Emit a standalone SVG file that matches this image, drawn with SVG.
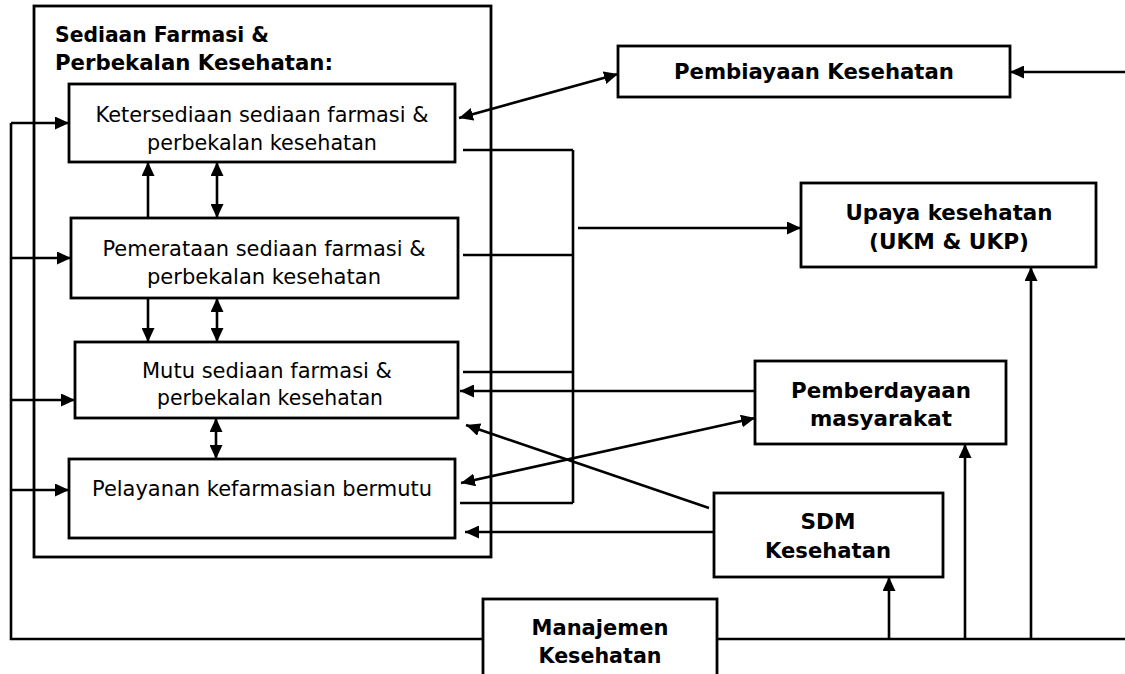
<svg xmlns="http://www.w3.org/2000/svg" width="1125" height="674" viewBox="0 0 1125 674">
<style>
.box{fill:#fff;stroke:#000;stroke-width:2.8}
.ln{fill:none;stroke:#000;stroke-width:2.6}
.a{marker-end:url(#ah)}
.d{marker-start:url(#ah);marker-end:url(#ah)}
.t{font-family:"DejaVu Sans",Verdana,sans-serif;font-size:21.5px;fill:#000}
.b{font-family:"DejaVu Sans",Verdana,sans-serif;font-size:21.5px;font-weight:bold;fill:#000}
.c{text-anchor:middle}
</style>
<defs>
<marker id="ah" viewBox="0 0 14 13" refX="14" refY="6.5" markerWidth="14" markerHeight="13" markerUnits="userSpaceOnUse" orient="auto-start-reverse">
<path d="M0,0 L14,6.5 L0,13 z" fill="#000"/>
</marker>
</defs>
<rect width="1125" height="674" fill="#fff"/>

<g id="group-sediaan">
<rect class="box" x="34" y="6" width="457" height="551"/>
<text class="b" x="55" y="42" textLength="214" lengthAdjust="spacingAndGlyphs">Sediaan Farmasi &amp;</text>
<text class="b" x="55" y="70" textLength="278" lengthAdjust="spacingAndGlyphs">Perbekalan Kesehatan:</text>
</g>

<g id="node-ketersediaan">
<rect class="box" x="69" y="84" width="386" height="78"/>
<text class="t c" x="262" y="122" textLength="333" lengthAdjust="spacingAndGlyphs">Ketersediaan sediaan farmasi &amp;</text>
<text class="t c" x="262" y="150" textLength="230" lengthAdjust="spacingAndGlyphs">perbekalan kesehatan</text>
</g>

<g id="node-pemerataan">
<rect class="box" x="71" y="218" width="387" height="80"/>
<text class="t c" x="264" y="256" textLength="323" lengthAdjust="spacingAndGlyphs">Pemerataan sediaan farmasi &amp;</text>
<text class="t c" x="264" y="284" textLength="234" lengthAdjust="spacingAndGlyphs">perbekalan kesehatan</text>
</g>

<g id="node-mutu">
<rect class="box" x="75" y="342" width="383" height="76"/>
<text class="t c" x="267" y="378" textLength="250" lengthAdjust="spacingAndGlyphs">Mutu sediaan farmasi &amp;</text>
<text class="t c" x="270" y="405" textLength="226" lengthAdjust="spacingAndGlyphs">perbekalan kesehatan</text>
</g>

<g id="node-pelayanan">
<rect class="box" x="69" y="459" width="386" height="79"/>
<text class="t" x="92" y="496" textLength="340" lengthAdjust="spacingAndGlyphs">Pelayanan kefarmasian bermutu</text>
</g>

<g id="node-pembiayaan">
<rect class="box" x="618" y="46" width="392" height="51"/>
<text class="b c" x="814" y="79" textLength="280" lengthAdjust="spacingAndGlyphs">Pembiayaan Kesehatan</text>
</g>

<g id="node-upaya">
<rect class="box" x="801" y="183" width="295" height="84"/>
<text class="b c" x="949" y="220" textLength="207" lengthAdjust="spacingAndGlyphs">Upaya kesehatan</text>
<text class="b c" x="949" y="249" textLength="160" lengthAdjust="spacingAndGlyphs">(UKM &amp; UKP)</text>
</g>

<g id="node-pemberdayaan">
<rect class="box" x="755" y="361" width="251" height="83"/>
<text class="b c" x="881" y="398" textLength="180" lengthAdjust="spacingAndGlyphs">Pemberdayaan</text>
<text class="b c" x="881" y="426" textLength="142" lengthAdjust="spacingAndGlyphs">masyarakat</text>
</g>

<g id="node-sdm">
<rect class="box" x="714" y="493" width="229" height="84"/>
<text class="b c" x="828" y="529" textLength="55" lengthAdjust="spacingAndGlyphs">SDM</text>
<text class="b c" x="828" y="558" textLength="126" lengthAdjust="spacingAndGlyphs">Kesehatan</text>
</g>

<g id="node-manajemen">
<rect class="box" x="483" y="599" width="234" height="100"/>
<text class="b c" x="600" y="635" textLength="137" lengthAdjust="spacingAndGlyphs">Manajemen</text>
<text class="b c" x="600" y="663" textLength="123" lengthAdjust="spacingAndGlyphs">Kesehatan</text>
</g>

<g id="connectors">
<polyline class="ln" points="483,639 11,639 11,123"/>
<line class="ln a" x1="11" y1="123" x2="69" y2="123"/>
<line class="ln a" x1="11" y1="258" x2="71" y2="258"/>
<line class="ln a" x1="11" y1="400" x2="75" y2="400"/>
<line class="ln a" x1="11" y1="490" x2="69" y2="490"/>
<line class="ln a" x1="148" y1="218" x2="148" y2="162"/>
<line class="ln d" x1="217" y1="162" x2="217" y2="218"/>
<line class="ln a" x1="148" y1="298" x2="148" y2="342"/>
<line class="ln d" x1="217" y1="298" x2="217" y2="342"/>
<line class="ln d" x1="216" y1="418" x2="216" y2="459"/>
<line class="ln" x1="463" y1="150" x2="573" y2="150"/>
<line class="ln" x1="463" y1="255" x2="573" y2="255"/>
<line class="ln" x1="463" y1="372" x2="573" y2="372"/>
<line class="ln" x1="460" y1="503" x2="573" y2="503"/>
<line class="ln" x1="573" y1="150" x2="573" y2="503"/>
<line class="ln a" x1="578" y1="228" x2="801" y2="228"/>
<line class="ln d" x1="459" y1="118" x2="618" y2="74"/>
<line class="ln a" x1="1125" y1="72" x2="1010" y2="72"/>
<line class="ln a" x1="755" y1="391" x2="460" y2="391"/>
<line class="ln a" x1="714" y1="532" x2="465" y2="532"/>
<line class="ln a" x1="709" y1="508" x2="466" y2="425"/>
<line class="ln d" x1="461" y1="483" x2="755" y2="418"/>
<line class="ln" x1="717" y1="639" x2="1125" y2="639"/>
<line class="ln a" x1="889" y1="639" x2="889" y2="577"/>
<line class="ln a" x1="965" y1="639" x2="965" y2="444"/>
<line class="ln a" x1="1031" y1="639" x2="1031" y2="267"/>
</g>
</svg>
